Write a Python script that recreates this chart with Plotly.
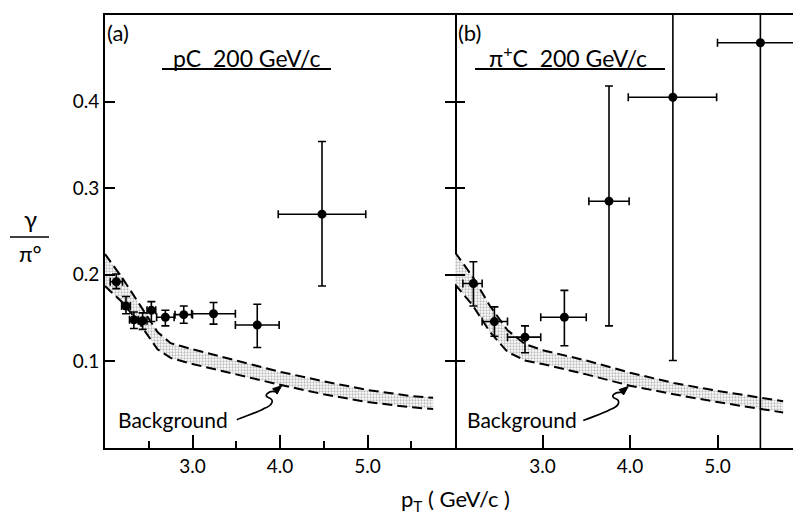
"""gamma/pi0 ratio vs pT for pC and pi+C at 200 GeV/c, two panels with background band."""
import math

import plotly.graph_objects as go

# ---- data ----
# panel (a) pC 200 GeV/c
pa_x = [2.13, 2.24, 2.33, 2.43, 2.53, 2.69, 2.90, 3.24, 3.74, 4.48]
pa_y = [0.192, 0.164, 0.148, 0.147, 0.159, 0.151, 0.154, 0.155, 0.142, 0.270]
pa_xerr = [0.07, 0.05, 0.05, 0.05, 0.05, 0.10, 0.10, 0.25, 0.25, 0.50]
pa_yerr_hi = [0.009, 0.011, 0.009, 0.009, 0.010, 0.008, 0.010, 0.013, 0.024, 0.084]
pa_yerr_lo = [0.008, 0.009, 0.010, 0.010, 0.013, 0.010, 0.010, 0.012, 0.026, 0.083]

# panel (b) pi+C 200 GeV/c
pb_x = [2.21, 2.45, 2.80, 3.25, 3.76, 4.49, 5.49]
pb_y = [0.190, 0.146, 0.128, 0.151, 0.285, 0.405, 0.468]
pb_xerr_lo = [0.12, 0.14, 0.20, 0.27, 0.23, 0.51, 0.49]
pb_xerr_hi = [0.10, 0.15, 0.18, 0.25, 0.23, 0.50, 0.51]
pb_yerr_hi = [0.025, 0.017, 0.013, 0.031, 0.133, 0.200, 0.200]
pb_yerr_lo = [0.026, 0.017, 0.018, 0.033, 0.144, 0.304, 0.500]

# background bands (upper / lower dashed edges)
bg_a_x = [2.0, 2.2, 2.4, 2.6, 2.75, 3.0, 3.5, 4.0, 4.5, 5.0, 5.5, 5.75]
bg_a_hi = [0.224, 0.196, 0.165, 0.134, 0.121, 0.114, 0.101, 0.088, 0.077, 0.067, 0.060, 0.058]
bg_a_lo = [0.187, 0.168, 0.143, 0.114, 0.104, 0.097, 0.085, 0.073, 0.062, 0.053, 0.047, 0.045]

bg_b_x = [2.0, 2.2, 2.4, 2.6, 2.8, 3.0, 3.5, 4.0, 4.5, 5.0, 5.5, 5.75]
bg_b_hi = [0.226, 0.198, 0.164, 0.136, 0.120, 0.113, 0.101, 0.087, 0.075, 0.066, 0.058, 0.054]
bg_b_lo = [0.189, 0.165, 0.134, 0.111, 0.101, 0.097, 0.085, 0.072, 0.062, 0.053, 0.045, 0.041]

x_ticks = [3.0, 4.0, 5.0]
x_ticktext = ["3.0", "4.0", "5.0"]
x_minor = [2.5, 3.5, 4.5, 5.5]
y_ticks = [0.1, 0.2, 0.3, 0.4]
y_ticktext = ["0.1", "0.2", "0.3", "0.4"]

# ---- layout geometry (pixels) ----
W, H = 793, 520
L, T, B = 105, 15, 72
PW, PH = W - L, H - T - B
SPLIT = 455
XPX, YPX = 87.5, 866.0   # pixels per data unit
FONT = "Lato"
INK = "black"


def px(x):
    return (x - L) / PW


def py(y):
    return (H - B - y) / PH


fig = go.Figure()


def band(xs, hi, lo, xa, ya):
    fig.add_trace(go.Scatter(
        x=xs, y=lo, mode="lines", xaxis=xa, yaxis=ya,
        line=dict(color=INK, width=2, dash="10px,5px"), hoverinfo="skip",
    ))
    fig.add_trace(go.Scatter(
        x=xs, y=hi, mode="lines", xaxis=xa, yaxis=ya,
        line=dict(color=INK, width=2, dash="10px,5px"),
        fill="tonexty", fillcolor="white",
        fillpattern=dict(shape=".", fgcolor="#7a7a7a", bgcolor="white", size=3, solidity=0.45),
        hoverinfo="skip",
    ))


def points(xs, ys, xlo, xhi, ylo, yhi, xa, ya):
    fig.add_trace(go.Scatter(
        x=xs, y=ys, mode="markers", xaxis=xa, yaxis=ya,
        marker=dict(color=INK, size=9),
        error_x=dict(type="data", array=xhi, arrayminus=xlo, color=INK, thickness=1.6, width=4),
        error_y=dict(type="data", array=yhi, arrayminus=ylo, color=INK, thickness=1.6, width=4),
    ))


band(bg_a_x, bg_a_hi, bg_a_lo, "x", "y")
band(bg_b_x, bg_b_hi, bg_b_lo, "x2", "y2")
points(pa_x, pa_y, pa_xerr, pa_xerr, pa_yerr_lo, pa_yerr_hi, "x", "y")
points(pb_x, pb_y, pb_xerr_lo, pb_xerr_hi, pb_yerr_lo, pb_yerr_hi, "x2", "y2")

xr_b = 2.0 + (W - SPLIT) / XPX
axis_font = dict(family=FONT, size=19, color=INK)
common_x = dict(
    showline=True, linecolor=INK, linewidth=1.8, mirror=True, showgrid=False, zeroline=False,
    ticks="inside", ticklen=13, tickwidth=1.6, tickcolor=INK,
    tickvals=x_ticks, ticktext=x_ticktext, tickfont=axis_font, fixedrange=True,
)
fig.update_layout(
    width=W, height=H,
    margin=dict(l=L, r=0, t=T, b=B),
    paper_bgcolor="white", plot_bgcolor="white",
    showlegend=False,
    font=dict(family=FONT, color=INK),
    xaxis=dict(common_x, domain=[0, px(SPLIT)], range=[2.0, 6.0],
               minor=dict(tickvals=x_minor, ticks="inside", ticklen=7, tickwidth=1.6, tickcolor=INK)),
    xaxis2=dict(common_x, domain=[px(SPLIT), 1], range=[2.0, xr_b], anchor="y2"),
    yaxis=dict(
        domain=[0, 1], range=[0, 0.5], showline=True, linecolor=INK, linewidth=1.8,
        mirror="ticks", showgrid=False, zeroline=False,
        ticks="inside", ticklen=10, tickwidth=1.6, tickcolor=INK,
        tickvals=y_ticks, ticktext=y_ticktext, tickfont=axis_font,
    ),
    yaxis2=dict(
        domain=[0, 1], range=[0, 0.5], anchor="x2", showline=False,
        mirror=False, showgrid=False, zeroline=False,
        ticks="inside", ticklen=10, tickwidth=1.6, tickcolor=INK,
        tickvals=y_ticks, showticklabels=False,
    ),
)

# panel labels and underlined titles
label_font = dict(family=FONT, size=22, color=INK)
fig.add_annotation(text="(a)", xref="paper", yref="paper", x=px(105), y=py(33),
                   xanchor="left", yanchor="middle", showarrow=False, font=label_font)
fig.add_annotation(text="(b)", xref="paper", yref="paper", x=px(456), y=py(33),
                   xanchor="left", yanchor="middle", showarrow=False, font=label_font)
fig.add_annotation(text="pC  200 GeV/c", xref="paper", yref="paper", x=px(246), y=py(58),
                   xanchor="center", yanchor="middle", showarrow=False,
                   font=dict(family=FONT, size=23, color=INK))
fig.add_annotation(text="π<sup>+</sup>C  200 GeV/c", xref="paper", yref="paper", x=px(568), y=py(57),
                   xanchor="center", yanchor="middle", showarrow=False,
                   font=dict(family=FONT, size=23, color=INK))
for x0, x1 in [(162, 331), (475, 665)]:
    fig.add_shape(type="line", xref="paper", yref="paper", x0=px(x0), x1=px(x1),
                  y0=py(69), y1=py(69), line=dict(color=INK, width=1.8))

# y-axis label as a fraction
fig.add_annotation(text="γ", xref="paper", yref="paper", x=px(30), y=py(235),
                   xanchor="center", yanchor="bottom", showarrow=False,
                   font=dict(family=FONT, size=24, color=INK))
fig.add_shape(type="line", xref="paper", yref="paper", x0=px(10), x1=px(49),
              y0=py(237), y1=py(237), line=dict(color=INK, width=1.6))
fig.add_annotation(text="π°", xref="paper", yref="paper", x=px(30), y=py(238),
                   xanchor="center", yanchor="top", showarrow=False,
                   font=dict(family=FONT, size=22, color=INK))

# x-axis title
fig.add_annotation(text="p<sub>T</sub> ( GeV/c )", xref="paper", yref="paper", x=px(455), y=py(500),
                   xanchor="center", yanchor="middle", showarrow=False,
                   font=dict(family=FONT, size=22, color=INK))

# "Background" labels with squiggly leaders
text_font = dict(family=FONT, size=21, color=INK)


def to_data(tip_x, tip_y, ox, oy):
    return tip_x + ox / XPX, tip_y - oy / YPX


def squiggle(tip_x, tip_y, xa, ya):
    # leader offsets in pixels from the arrow tip
    pts = [(-45, 34), (-35, 30), (-25, 27), (-18, 23), (-9, 20), (-7, 14),
           (-13, 12), (-19, 10), (-13, 5), (-7, 6)]
    d = [to_data(tip_x, tip_y, ox, oy) for ox, oy in pts]
    path = "M{:.4f},{:.4f} C{:.4f},{:.4f} {:.4f},{:.4f} {:.4f},{:.4f} ".format(*d[0], *d[1], *d[2], *d[3])
    path += "C{:.4f},{:.4f} {:.4f},{:.4f} {:.4f},{:.4f} ".format(*d[4], *d[5], *d[6])
    path += "C{:.4f},{:.4f} {:.4f},{:.4f} {:.4f},{:.4f} ".format(*d[7], *d[8], *d[9])
    path += "L{:.4f},{:.4f}".format(*to_data(tip_x, tip_y, -3, 3))
    fig.add_shape(type="path", path=path, xref=xa, yref=ya, line=dict(color=INK, width=1.7))
    # filled arrowhead pointing up-right into the band
    ux, uy = 6 / math.hypot(6, 5), -5 / math.hypot(6, 5)
    nx, ny = -uy, ux
    bx, by = -9 * ux, -9 * uy
    c1 = to_data(tip_x, tip_y, bx + 3.5 * nx, by + 3.5 * ny)
    c2 = to_data(tip_x, tip_y, bx - 3.5 * nx, by - 3.5 * ny)
    head = "M{:.4f},{:.4f} L{:.4f},{:.4f} L{:.4f},{:.4f} Z".format(tip_x, tip_y, *c1, *c2)
    fig.add_shape(type="path", path=head, xref=xa, yref=ya,
                  line=dict(color=INK, width=1), fillcolor=INK)


fig.add_annotation(text="Background", xref="paper", yref="paper", x=px(116), y=py(419),
                   xanchor="left", yanchor="middle", showarrow=False, font=text_font)
fig.add_annotation(text="Background", xref="paper", yref="paper", x=px(465), y=py(419),
                   xanchor="left", yanchor="middle", showarrow=False, font=text_font)
squiggle(4.02, 0.072, "x", "y")
squiggle(3.98, 0.071, "x2", "y2")

fig.write_html("out.html", config={"displayModeBar": False},
               post_script="document.body.style.margin='0';")
